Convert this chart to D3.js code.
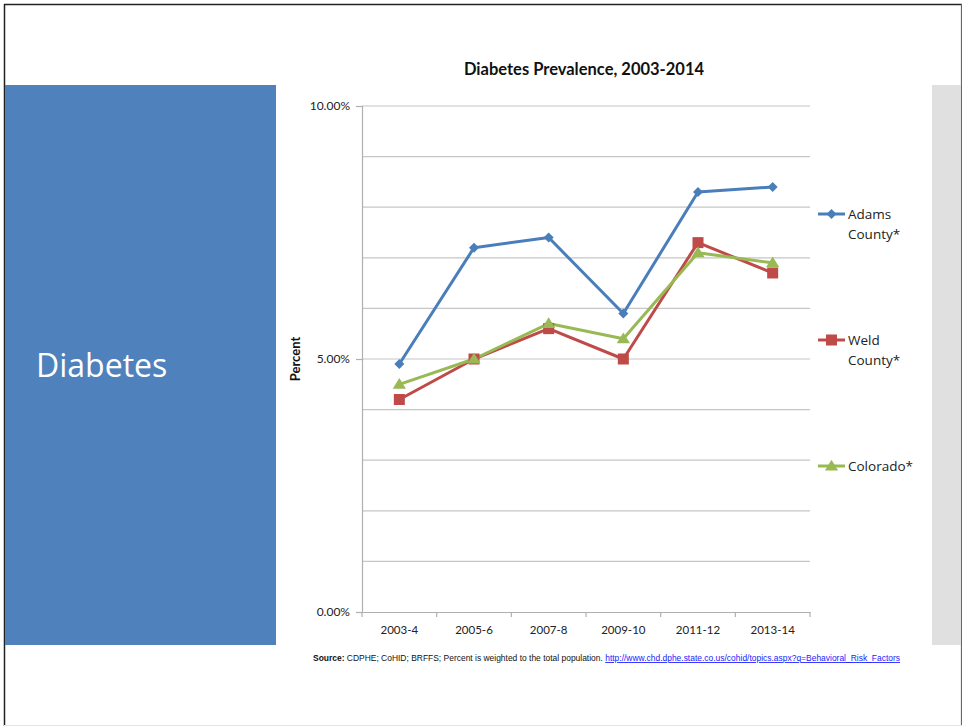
<!DOCTYPE html>
<html>
<head>
<meta charset="utf-8">
<script src="https://cdn.jsdelivr.net/npm/d3@7/dist/d3.min.js"></script>
<style>
  html, body { margin: 0; padding: 0; background: #fff; }
  svg { display: block; }
</style>
</head>
<body>
<svg id="slide" width="962" height="726"></svg>
<script>
// Survey periods and prevalence (%) per region
const periods = ["2003-4", "2005-6", "2007-8", "2009-10", "2011-12", "2013-14"];
const adams = [4.9, 7.2, 7.4, 5.9, 8.3, 8.4];
const weld = [4.2, 5.0, 5.6, 5.0, 7.3, 6.7];
const colorado = [4.5, 5.0, 5.7, 5.4, 7.1, 6.9];
const seriesNames = [["Adams", "County*"], ["Weld", "County*"], ["Colorado*"]];
const yTicks = [0, 5, 10];

const series = [
  { name: seriesNames[0], values: adams, color: "#4A7EBB", marker: "diamond" },
  { name: seriesNames[1], values: weld, color: "#BE4B48", marker: "square" },
  { name: seriesNames[2], values: colorado, color: "#98B954", marker: "triangle" }
];

const svg = d3.select("#slide");
const font = "Lato, 'Open Sans', sans-serif";

// Slide frame
svg.append("rect").attr("x", 0).attr("y", 0).attr("width", 962).attr("height", 726).attr("fill", "#fff");
svg.append("line").attr("x1", 4.5).attr("x2", 4.5).attr("y1", 4).attr("y2", 726).attr("stroke", "#222").attr("stroke-width", 1.5);
svg.append("line").attr("x1", 4).attr("x2", 962).attr("y1", 4.5).attr("y2", 4.5).attr("stroke", "#222").attr("stroke-width", 1.5);
svg.append("line").attr("x1", 961.5).attr("x2", 961.5).attr("y1", 4).attr("y2", 726).attr("stroke", "#666").attr("stroke-width", 1.2);
svg.append("line").attr("x1", 4).attr("x2", 962).attr("y1", 725.5).attr("y2", 725.5).attr("stroke", "#e4e4e4").attr("stroke-width", 1);

// Side panels
svg.append("rect").attr("x", 5).attr("y", 85).attr("width", 271).attr("height", 560).attr("fill", "#4F81BD");
svg.append("rect").attr("x", 932).attr("y", 85).attr("width", 29).attr("height", 560).attr("fill", "#E0E0E0");
svg.append("text").attr("x", 36).attr("y", 377).attr("fill", "#fff")
  .attr("font-family", "'Open Sans', sans-serif").attr("font-size", 32).attr("font-weight", 400)
  .text("Diabetes");

// Plot area
const plotL = 362, plotR = 810, plotT = 106, plotB = 612;
const x = d3.scaleBand().domain(periods).range([plotL, plotR]);
const y = d3.scaleLinear().domain([0, 10]).range([plotB, plotT]);

// Horizontal gridlines every 1%
const g = svg.append("g");
g.selectAll("line.grid").data(d3.range(1, 11)).join("line")
  .attr("x1", plotL).attr("x2", plotR)
  .attr("y1", d => y(d)).attr("y2", d => y(d))
  .attr("stroke", "#C6C6C6").attr("stroke-width", 1.2);

// Y axis
const yAxis = svg.append("g").attr("transform", `translate(${plotL},0)`)
  .call(d3.axisLeft(y).tickValues(yTicks).tickSize(6).tickPadding(6)
    .tickFormat(d => d3.format(".2f")(d) + "%"));
yAxis.select(".domain").attr("stroke", "#B0B0B0").attr("stroke-width", 1.2);
yAxis.selectAll(".tick line").attr("stroke", "#B0B0B0").attr("stroke-width", 1.2);
yAxis.selectAll(".tick text").attr("font-family", font).attr("font-size", 12).attr("fill", "#222");

// X axis
const xAxis = svg.append("g").attr("transform", `translate(0,${plotB})`)
  .call(d3.axisBottom(x).tickSize(0).tickPadding(14));
xAxis.select(".domain").attr("stroke", "#B0B0B0").attr("stroke-width", 1.2);
xAxis.selectAll(".tick text").attr("font-family", font).attr("font-size", 11.5).attr("fill", "#222");
const bounds = periods.map(p => x(p)).concat([plotR]);
svg.append("g").selectAll("line").data(bounds).join("line")
  .attr("x1", d => d).attr("x2", d => d)
  .attr("y1", plotB).attr("y2", plotB + 5)
  .attr("stroke", "#B0B0B0").attr("stroke-width", 1.2);

// Titles
svg.append("text").attr("x", 584).attr("y", 75).attr("text-anchor", "middle")
  .attr("font-family", font).attr("font-weight", 700).attr("font-size", 16.5).attr("fill", "#111")
  .text("Diabetes Prevalence, 2003-2014");
svg.append("text").attr("transform", `translate(300,${y(5)}) rotate(-90)`)
  .attr("text-anchor", "middle").attr("font-family", font).attr("font-weight", 700)
  .attr("font-size", 13).attr("fill", "#111").text("Percent");

// Marker drawing
function drawMarker(sel, type, color, size) {
  if (type === "diamond") {
    sel.append("path").attr("d", `M0,${-size}L${size},0L0,${size}L${-size},0Z`).attr("fill", color);
  } else if (type === "square") {
    sel.append("rect").attr("x", -size).attr("y", -size).attr("width", 2 * size).attr("height", 2 * size).attr("fill", color);
  } else {
    sel.append("path").attr("d", `M0,${-size * 1.05}L${size * 1.1},${size * 0.75}L${-size * 1.1},${size * 0.75}Z`).attr("fill", color);
  }
}

const line = d3.line().x((d, i) => x(periods[i]) + x.bandwidth() / 2).y(d => y(d));
const markerSize = { diamond: 5, square: 5.5, triangle: 6 };

series.forEach(s => {
  svg.append("path").datum(s.values).attr("d", line)
    .attr("fill", "none").attr("stroke", s.color).attr("stroke-width", 3)
    .attr("stroke-linejoin", "round");
});
series.forEach(s => {
  s.values.forEach((v, i) => {
    const m = svg.append("g").attr("transform", `translate(${x(periods[i]) + x.bandwidth() / 2},${y(v)})`);
    drawMarker(m, s.marker, s.color, markerSize[s.marker]);
  });
});

// Legend
const legendY = [214, 340, 466];
series.forEach((s, i) => {
  const lg = svg.append("g").attr("transform", `translate(818,${legendY[i]})`);
  lg.append("line").attr("x1", 0).attr("x2", 27).attr("y1", 0).attr("y2", 0)
    .attr("stroke", s.color).attr("stroke-width", 3);
  const m = lg.append("g").attr("transform", "translate(13.5,0)");
  drawMarker(m, s.marker, s.color, markerSize[s.marker]);
  const t = lg.append("text").attr("x", 30).attr("y", 5)
    .attr("font-family", "'Open Sans', sans-serif").attr("font-size", 13.5).attr("fill", "#222");
  s.name.forEach((n, k) => {
    t.append("tspan").attr("x", 30).attr("dy", k === 0 ? 0 : 20).text(n);
  });
});

// Source note
const src = svg.append("text").attr("x", 313).attr("y", 661)
  .attr("font-family", "'Liberation Sans', Arial, sans-serif").attr("font-size", 8.6)
  .attr("fill", "#111").attr("textLength", 587).attr("lengthAdjust", "spacingAndGlyphs");
src.append("tspan").attr("font-weight", 700).text("Source:");
src.append("tspan").text(" CDPHE; CoHID; BRFFS; Percent is weighted to the total population. ");
src.append("tspan").attr("fill", "#1a1aff").attr("text-decoration", "underline")
  .text("http://www.chd.dphe.state.co.us/cohid/topics.aspx?q=Behavioral_Risk_Factors");
</script>
</body>
</html>
